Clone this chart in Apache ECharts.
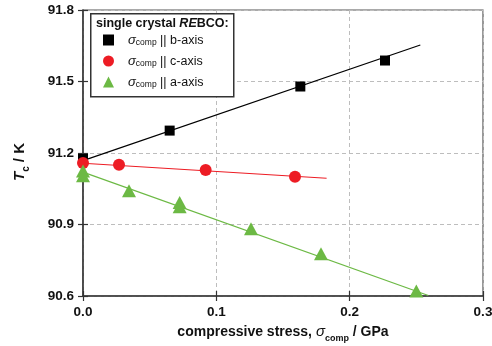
<!DOCTYPE html>
<html>
<head>
<meta charset="utf-8">
<script src="https://cdn.jsdelivr.net/npm/echarts@6/dist/echarts.min.js"></script>
<style>
  html, body { margin: 0; padding: 0; background: #fff; }
  #chart { width: 492px; height: 346px; }
</style>
</head>
<body>
<div id="chart"></div>
<script>
// Critical temperature of single-crystal REBCO under uniaxial compressive stress
var stressB = [0, 0.065, 0.163, 0.2265];
var tcB     = [91.175, 91.294, 91.479, 91.588];
var fitStressB = [0, 0.253];
var fitTcB     = [91.168, 91.653];

var stressC = [0, 0.027, 0.092, 0.159];
var tcC     = [91.158, 91.151, 91.129, 91.100];
var fitStressC = [0, 0.1827];
var fitTcC     = [91.157, 91.094];

var stressA = [0, 0, 0.0345, 0.0725, 0.0725, 0.126, 0.1785, 0.250];
var tcA     = [91.125, 91.105, 91.042, 90.992, 90.975, 90.882, 90.777, 90.621];
var fitStressA = [0, 0.259];
var fitTcA     = [91.12, 90.602];

var xTicks = [0, 0.1, 0.2, 0.3];
var yTicks = [90.6, 90.9, 91.2, 91.5, 91.8];

var legendNames = ['b-axis', 'c-axis', 'a-axis'];

function pairs(xs, ys) {
  return xs.map(function (x, i) { return [x, ys[i]]; });
}

var FONT = '"Liberation Sans", Arial, sans-serif';
var BLACK = '#000000';
var RED = '#ed1c24';
var GREEN = '#6cb944';
var AXIS = '#333333';

var chart = echarts.init(document.getElementById('chart'), null, { renderer: 'canvas' });

var xBase = {
  type: 'value', min: xTicks[0], max: xTicks[xTicks.length - 1], interval: 0.1,
  gridIndex: 0
};
var yBase = {
  type: 'value', min: yTicks[0], max: yTicks[yTicks.length - 1], interval: 0.3,
  gridIndex: 0
};

var legendRich = {
  s: { fontFamily: FONT, fontStyle: 'italic', fontSize: 13, color: '#111', verticalAlign: 'bottom', lineHeight: 14 },
  sub: { fontFamily: FONT, fontSize: 8.5, color: '#111', verticalAlign: 'bottom', lineHeight: 6 },
  t: { fontFamily: FONT, fontSize: 12.5, color: '#111', verticalAlign: 'bottom', lineHeight: 14 }
};

var option = {
  backgroundColor: '#ffffff',
  animation: false,
  grid: {
    left: 83, right: 9, top: 10, bottom: 50,
    outerBoundsMode: 'none',
    containLabel: false,
    show: true, borderColor: '#555', borderWidth: 1.2, backgroundColor: 'transparent'
  },
  xAxis: [
    Object.assign({}, xBase, {
      name: '{b|compressive stress, }{s|σ}{sub|comp}{b| / GPa}',
      nameLocation: 'middle',
      nameGap: 27,
      nameTextStyle: {
        rich: {
          b: { fontFamily: FONT, fontWeight: 'bold', fontSize: 14, color: '#111', verticalAlign: 'bottom', lineHeight: 16 },
          s: { fontFamily: FONT, fontStyle: 'italic', fontSize: 15, color: '#111', verticalAlign: 'bottom', lineHeight: 16 },
          sub: { fontFamily: FONT, fontWeight: 'bold', fontSize: 9, color: '#111', verticalAlign: 'bottom', lineHeight: 10, padding: [0, 0, -4, 0] }
        }
      },
      axisLine: { show: true, lineStyle: { color: AXIS, width: 1.5 } },
      axisTick: { show: true, length: 5, lineStyle: { color: AXIS, width: 1.2 } },
      axisLabel: {
        fontFamily: FONT, fontWeight: 'bold', fontSize: 13.5, color: '#111', margin: 9,
        formatter: function (v) { return v.toFixed(1); }
      },
      splitLine: { show: true, lineStyle: { color: '#bdbdbd', type: [4, 3], width: 1 } }
    }),
    Object.assign({}, xBase, {
      position: 'bottom',
      axisLine: { show: false },
      axisTick: { show: true, inside: true, length: 5, lineStyle: { color: AXIS, width: 1.2 } },
      axisLabel: { show: false },
      splitLine: { show: false }
    })
  ],
  yAxis: [
    Object.assign({}, yBase, {
      name: '{i|T}{sub|c}{b| / K}',
      nameLocation: 'middle',
      nameRotate: 90,
      nameGap: 56,
      nameTextStyle: {
        padding: [0, 18, 0, 0],
        rich: {
          i: { fontFamily: FONT, fontStyle: 'italic', fontWeight: 'bold', fontSize: 15, color: '#111', verticalAlign: 'bottom', lineHeight: 16 },
          b: { fontFamily: FONT, fontWeight: 'bold', fontSize: 15, color: '#111', verticalAlign: 'bottom', lineHeight: 16 },
          sub: { fontFamily: FONT, fontWeight: 'bold', fontSize: 10, color: '#111', verticalAlign: 'bottom', lineHeight: 10, padding: [0, 0, -4, 0] }
        }
      },
      axisLine: { show: true, lineStyle: { color: AXIS, width: 1.5 } },
      axisTick: { show: true, length: 5, lineStyle: { color: AXIS, width: 1.2 } },
      axisLabel: {
        fontFamily: FONT, fontWeight: 'bold', fontSize: 13.5, color: '#111', margin: 9,
        formatter: function (v) { return v.toFixed(1); }
      },
      splitLine: { show: true, lineStyle: { color: '#bdbdbd', type: [4, 3], width: 1 } }
    }),
    Object.assign({}, yBase, {
      position: 'left',
      axisLine: { show: false },
      axisTick: { show: true, inside: true, length: 5, lineStyle: { color: AXIS, width: 1.2 } },
      axisLabel: { show: false },
      splitLine: { show: false }
    })
  ],
  legend: {
    orient: 'vertical',
    left: 103,
    top: 34,
    itemWidth: 11,
    itemHeight: 11,
    itemGap: 8,
    padding: 0,
    z: 60,
    selectedMode: false,
    data: [
      { name: legendNames[0], icon: 'rect', itemStyle: { color: BLACK } },
      { name: legendNames[1], icon: 'circle', itemStyle: { color: RED } },
      { name: legendNames[2], icon: 'triangle', itemStyle: { color: GREEN } }
    ],
    formatter: function (name) {
      return '{s|σ}{sub|comp}{t| || ' + name + '}';
    },
    textStyle: { rich: legendRich, padding: [0, 0, 0, 9] }
  },
  graphic: [
    {
      type: 'rect',
      left: 90, top: 13,
      shape: { width: 143, height: 83 },
      style: { fill: '#fff', stroke: '#333', lineWidth: 1.5 },
      z: 50
    },
    {
      type: 'text',
      left: 96, top: 17,
      style: {
        text: '{b|single crystal }{bi|RE}{b|BCO:}',
        rich: {
          b: { fontFamily: FONT, fontWeight: 'bold', fontSize: 12.5, fill: '#111' },
          bi: { fontFamily: FONT, fontWeight: 'bold', fontStyle: 'italic', fontSize: 12.5, fill: '#111' }
        }
      },
      z: 51
    }
  ],
  series: [
    {
      type: 'line', xAxisIndex: 0, yAxisIndex: 0,
      data: pairs(fitStressB, fitTcB), symbol: 'none', silent: true,
      lineStyle: { color: BLACK, width: 1.2 }, z: 2
    },
    {
      type: 'line', xAxisIndex: 0, yAxisIndex: 0,
      data: pairs(fitStressC, fitTcC), symbol: 'none', silent: true,
      lineStyle: { color: RED, width: 1.2 }, z: 2
    },
    {
      type: 'line', xAxisIndex: 0, yAxisIndex: 0,
      data: pairs(fitStressA, fitTcA), symbol: 'none', silent: true,
      lineStyle: { color: GREEN, width: 1.2 }, z: 2
    },
    {
      name: legendNames[0], type: 'scatter', xAxisIndex: 0, yAxisIndex: 0,
      data: pairs(stressB, tcB), symbol: 'rect', symbolSize: 10,
      itemStyle: { color: BLACK, opacity: 1 }, z: 5
    },
    {
      name: legendNames[1], type: 'scatter', xAxisIndex: 0, yAxisIndex: 0,
      data: pairs(stressC, tcC), symbol: 'circle', symbolSize: 12,
      itemStyle: { color: RED, opacity: 1 }, z: 5
    },
    {
      name: legendNames[2], type: 'scatter', xAxisIndex: 0, yAxisIndex: 0,
      data: pairs(stressA, tcA), symbol: 'triangle', symbolSize: [14, 13],
      itemStyle: { color: GREEN, opacity: 1 }, z: 5
    }
  ]
};

chart.setOption(option);
</script>
</body>
</html>
